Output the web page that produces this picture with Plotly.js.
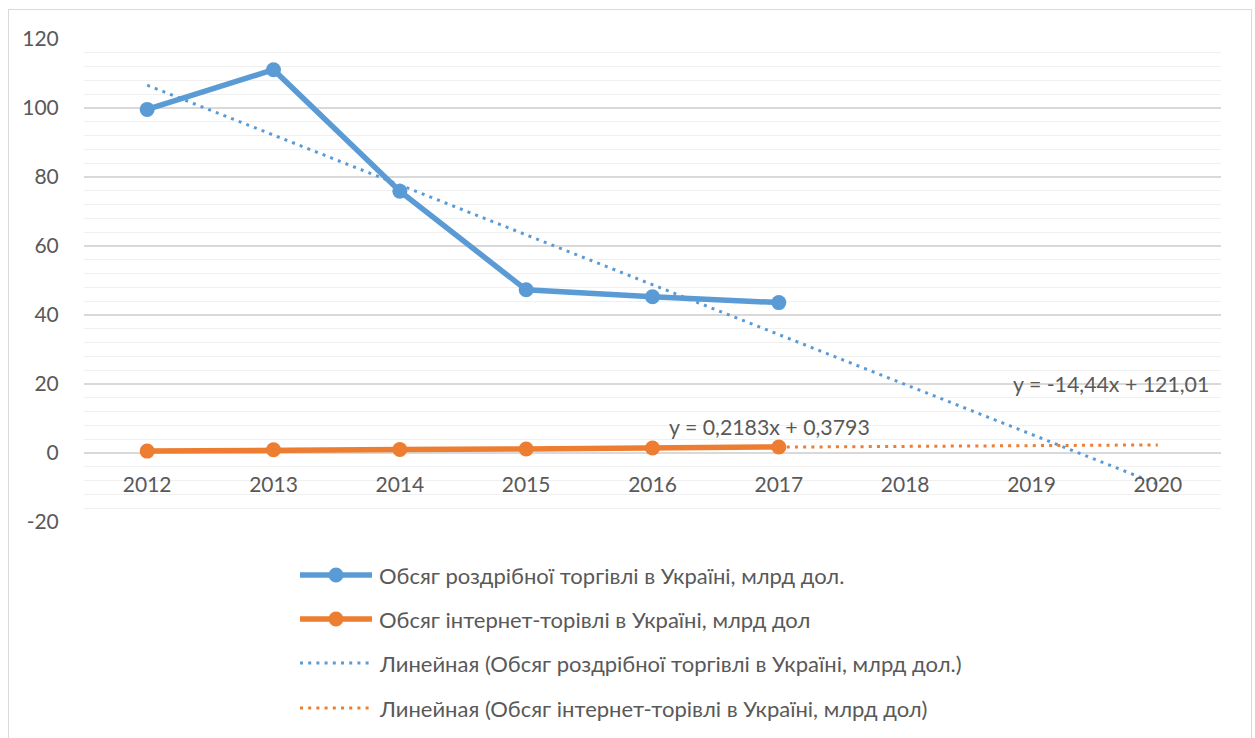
<!DOCTYPE html>
<html>
<head>
<meta charset="utf-8">
<script src="https://cdn.plot.ly/plotly-3.0.1.min.js"></script>
<style>
  html, body { margin: 0; padding: 0; background: #ffffff; }
  #chart { position: absolute; left: 0; top: 0; width: 1255px; height: 738px; }
  #frame { position: absolute; left: 8px; top: 9px; width: 1242px; height: 760px; border: 1px solid #d9d9d9; pointer-events: none; }
</style>
</head>
<body>
<div id="chart"></div>
<div id="frame"></div>
<script>
// ---- data ----
const years = [2012, 2013, 2014, 2015, 2016, 2017];
const forecastYears = [2012, 2013, 2014, 2015, 2016, 2017, 2018, 2019, 2020];
const retail = [99.6, 111.1, 75.9, 47.3, 45.3, 43.6];
const online = [0.55, 0.95, 1.0, 1.15, 1.45, 1.76];
const yTicks = [-20, 0, 20, 40, 60, 80, 100, 120];
const seriesNames = [
  'Обсяг роздрібної торгівлі в Україні, млрд дол.',
  'Обсяг інтернет-торівлі в Україні, млрд дол'
];
const trendNames = [
  'Линейная (Обсяг роздрібної торгівлі в Україні, млрд дол.)',
  'Линейная (Обсяг інтернет-торівлі в Україні, млрд дол)'
];
const equations = ['y = -14,44x + 121,01', 'y = 0,2183x + 0,3793'];

// ---- linear trend (least squares, x = 1..n like Excel) ----
function linearTrend(vals, outLen) {
  const n = vals.length;
  const xs = vals.map((_, i) => i + 1);
  const mx = xs.reduce((a, b) => a + b, 0) / n;
  const my = vals.reduce((a, b) => a + b, 0) / n;
  let sxy = 0, sxx = 0;
  for (let i = 0; i < n; i++) { sxy += (xs[i] - mx) * (vals[i] - my); sxx += (xs[i] - mx) ** 2; }
  const b = sxy / sxx, a = my - b * mx;
  const out = [];
  for (let i = 1; i <= outLen; i++) out.push(a + b * i);
  return out;
}
const retailTrend = linearTrend(retail, forecastYears.length);
const onlineTrend = linearTrend(online, forecastYears.length);

const BLUE = '#5b9bd5', ORANGE = '#ed7d31', TXT = '#595959';
const FONT = 'Lato, Carlito, Calibri, "Noto Sans", sans-serif';
const DOT = '3px,5.2px';

const traces = [
  { x: years, y: retail, type: 'scatter', mode: 'lines+markers', name: seriesNames[0],
    line: { color: BLUE, width: 5.5 }, marker: { color: BLUE, size: 15 } },
  { x: years, y: online, type: 'scatter', mode: 'lines+markers', name: seriesNames[1],
    line: { color: ORANGE, width: 5.5 }, marker: { color: ORANGE, size: 15 } },
  { x: forecastYears, y: retailTrend, type: 'scatter', mode: 'lines', name: trendNames[0],
    line: { color: BLUE, width: 3, dash: DOT } },
  { x: forecastYears, y: onlineTrend, type: 'scatter', mode: 'lines', name: trendNames[1],
    line: { color: ORANGE, width: 3, dash: DOT } }
];

// plot area pixel geometry
const L = 84, R = 1221, T = 39, B = 522;
const px = v => (v - L) / (R - L);
const py = v => (B - v) / (B - T);

// custom legend
const shapes = [], annotations = [];
const legendRows = [575, 619, 663, 708];
const legendColors = [BLUE, ORANGE, BLUE, ORANGE];
const legendLabels = [seriesNames[0], seriesNames[1], trendNames[0], trendNames[1]];
legendRows.forEach((ry, i) => {
  const solid = i < 2;
  shapes.push({ type: 'line', xref: 'paper', yref: 'paper', x0: px(300), x1: px(372), y0: py(ry), y1: py(ry),
    line: { color: legendColors[i], width: solid ? 5.5 : 3, dash: solid ? 'solid' : DOT } });
  if (solid) {
    shapes.push({ type: 'circle', xref: 'paper', yref: 'paper', xsizemode: 'pixel', ysizemode: 'pixel',
      xanchor: px(336), yanchor: py(ry), x0: -7.5, x1: 7.5, y0: -7.5, y1: 7.5,
      fillcolor: legendColors[i], line: { color: legendColors[i], width: 0 } });
  }
  annotations.push({ xref: 'paper', yref: 'paper', x: px(377), y: py(ry), xanchor: 'left', yanchor: 'middle',
    text: legendLabels[i], showarrow: false, font: { family: FONT, size: 22, color: TXT } });
});
// equation labels
annotations.push({ xref: 'x', yref: 'y', x: 2018.84, y: 20, xanchor: 'left', yanchor: 'middle',
  text: equations[0], showarrow: false, font: { family: FONT, size: 21.3, color: TXT } });
annotations.push({ xref: 'x', yref: 'y', x: 2016.93, y: 7.4, xanchor: 'center', yanchor: 'middle',
  text: equations[1], showarrow: false, font: { family: FONT, size: 21.3, color: TXT } });

const layout = {
  width: 1255, height: 738,
  margin: { l: L, r: 1255 - R, t: T, b: 738 - B, pad: 0 },
  paper_bgcolor: 'rgba(0,0,0,0)', plot_bgcolor: 'rgba(0,0,0,0)',
  showlegend: false,
  font: { family: FONT, size: 21, color: TXT },
  xaxis: {
    range: [2011.5, 2020.5], tickmode: 'array', tickvals: forecastYears, ticktext: forecastYears.map(String),
    showgrid: false, zeroline: false, showline: false,
    anchor: 'free', position: (0 - yTicks[0]) / (yTicks[yTicks.length - 1] - yTicks[0]),
    ticks: 'outside', ticklen: 13, tickcolor: 'rgba(0,0,0,0)',
    tickfont: { family: FONT, size: 21, color: TXT }
  },
  yaxis: {
    range: [-20, 120], tickmode: 'array', tickvals: yTicks, ticktext: yTicks.map(String),
    showgrid: true, gridcolor: '#d9d9d9', gridwidth: 1.3,
    zeroline: false, showline: false,
    ticks: 'outside', ticklen: 20, tickcolor: 'rgba(0,0,0,0)',
    tickfont: { family: FONT, size: 21, color: TXT },
    minor: { dtick: 4, tick0: 0, showgrid: true, gridcolor: '#f0f0f0', gridwidth: 1.3 }
  },
  shapes: shapes,
  annotations: annotations
};

Plotly.newPlot('chart', traces, layout, { staticPlot: true, displayModeBar: false });
</script>
</body>
</html>
